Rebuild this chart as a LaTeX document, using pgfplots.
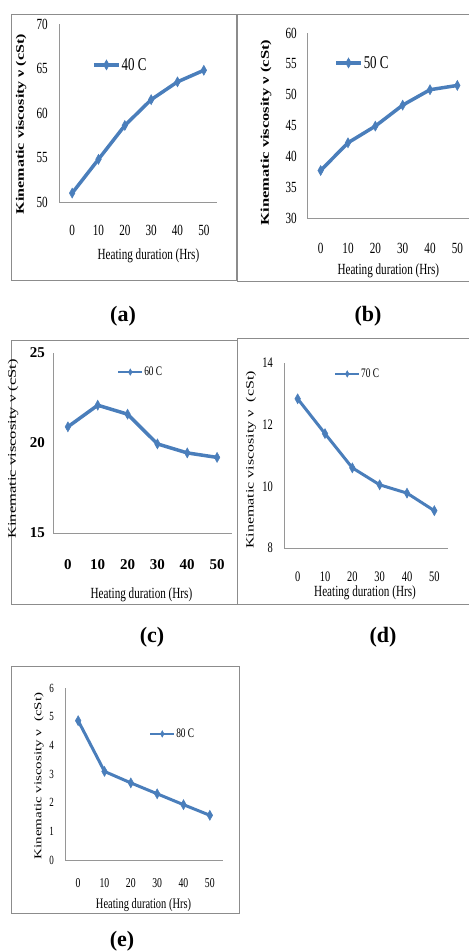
\documentclass[border=0pt]{standalone}
\usepackage{pgfplots}
\pgfplotsset{compat=1.18}
\usepackage{fontspec}
\usepackage{graphicx}
\setmainfont{Liberation Serif}
\newfontfamily\cf[FakeStretch=0.72]{Liberation Serif}
\newcommand\fsz[1]{\fontsize{#1bp}{#1bp}\selectfont}
\definecolor{xlblue}{RGB}{74,126,187}
\definecolor{axgray}{RGB}{150,150,150}
\definecolor{frgray}{RGB}{140,140,140}
\pgfplotsset{
  base/.style={
    scale only axis, anchor=south west,
    axis x line*=bottom, axis y line*=left,
    axis line style={draw=axgray, line width=0.8bp},
    major tick length=0pt,
    xmin=-5, xmax=55, xtick={0,10,20,30,40,50},
    /pgf/number format/assume math mode=true,
    ticklabel style={inner sep=0pt},
    xticklabel style={anchor=center},
    yticklabel style={anchor=east},
    xlabel={Heating duration (Hrs)},
    ylabel style={anchor=center},
    xlabel style={anchor=center},
    legend style={draw=none, fill=none, inner sep=0pt, anchor=west, nodes={inner sep=1bp}},
    legend cell align=left,
  },
  ser/.style={color=xlblue, line width=3.5bp, mark=diamond*, mark size=5bp,
    mark options={solid, fill=xlblue, line width=0.5bp, xscale=0.75}},
  bigleg/.style={legend image code/.code={\draw[mark repeat=2,mark phase=2,##1, line width=3.5bp, mark size=5bp] plot coordinates {(0bp,0bp) (12.5bp,0bp) (25bp,0bp)};}},
  smallleg/.style={legend image code/.code={\draw[mark repeat=2,mark phase=2,##1, line width=2bp, mark size=3.2bp] plot coordinates {(0bp,0bp) (12bp,0bp) (24bp,0bp)};}},
}
\begin{document}
\begin{tikzpicture}
% frames
\draw[frgray, line width=0.8bp] (11bp,-14bp) rectangle (236bp,-280bp);
\draw[frgray, line width=0.8bp] (237bp,-14bp) rectangle (470bp,-281bp);
\draw[frgray, line width=0.8bp] (11bp,-340bp) rectangle (237bp,-604bp);
\draw[frgray, line width=0.8bp] (237bp,-338bp) rectangle (470bp,-604bp);
\draw[frgray, line width=0.8bp] (11bp,-666bp) rectangle (239bp,-913bp);

% (a)
\begin{axis}[base, at={(59bp,-202bp)}, width=158bp, height=178bp,
  ymin=50, ymax=70, ytick={50,55,60,65,70},
  ticklabel style={font=\cf\fsz{15.5}},
  xticklabel style={yshift=-28bp}, yticklabel style={xshift=-11bp},
  xlabel style={font=\cf\fsz{15.5}, at={(axis description cs:0.566,-0.303)}},
  ylabel={\scalebox{1}[0.72]{\bfseries\fsz{16}Kinematic viscosity ν (cSt)}},
  ylabel style={at={(axis description cs:-0.24,0.438)}},
  legend style={at={(axis description cs:0.209,0.77)}, font=\cf\fsz{18}}, bigleg]
\addplot[ser] coordinates {(0,51.0) (10,54.8) (20,58.6) (30,61.5) (40,63.5) (50,64.8)};
\addlegendentry{40 C}
\end{axis}

% (b)
\begin{axis}[base, at={(307bp,-218bp)}, width=164bp, height=185bp,
  ymin=30, ymax=60, ytick={30,35,40,45,50,55,60},
  ticklabel style={font=\cf\fsz{15.5}},
  xticklabel style={yshift=-30bp}, yticklabel style={xshift=-10bp},
  xlabel style={font=\cf\fsz{15.5}, at={(axis description cs:0.496,-0.286)}},
  ylabel={\scalebox{1}[0.72]{\bfseries\fsz{16.5}Kinematic viscosity ν (cSt)}},
  ylabel style={at={(axis description cs:-0.25,0.462)}},
  legend style={at={(axis description cs:0.165,0.838)}, font=\cf\fsz{18}}, bigleg]
\addplot[ser] coordinates {(0,37.7) (10,42.2) (20,44.9) (30,48.3) (40,50.8) (50,51.5)};
\addlegendentry{50 C}
\end{axis}

% (c)
\begin{axis}[base, at={(53bp,-533bp)}, width=179bp, height=180bp,
  ymin=15, ymax=25, ytick={15,20,25},
  ticklabel style={font=\bfseries\fsz{15}},
  xticklabel style={yshift=-32bp}, yticklabel style={xshift=-8bp},
  xlabel style={font=\cf\fsz{15.5}, at={(axis description cs:0.494,-0.344)}},
  ylabel={\scalebox{1}[0.7]{\fsz{16.5}Kinematic viscosity ν (cSt)}},
  ylabel style={at={(axis description cs:-0.223,0.467)}},
  legend style={at={(axis description cs:0.358,0.894)}, font=\cf\fsz{13}}, smallleg]
\addplot[ser] coordinates {(0,20.9) (10,22.1) (20,21.6) (30,19.95) (40,19.45) (50,19.2)};
\addlegendentry{60 C}
\end{axis}

% (d)
\begin{axis}[base, at={(284bp,-548bp)}, width=164bp, height=185bp,
  ymin=8, ymax=14, ytick={8,10,12,14},
  ticklabel style={font=\cf\fsz{14.5}},
  xticklabel style={yshift=-29bp}, yticklabel style={xshift=-11bp},
  xlabel style={font=\cf\fsz{15.5}, at={(axis description cs:0.494,-0.243)}},
  ylabel={\scalebox{1}[0.7]{\fsz{16}Kinematic viscosity ν \ (cSt)}},
  ylabel style={at={(axis description cs:-0.201,0.476)}},
  legend style={at={(axis description cs:0.305,0.941)}, font=\cf\fsz{13}}, smallleg]
\addplot[ser, line width=3bp] coordinates {(0,12.84) (10,11.71) (20,10.6) (30,10.05) (40,9.78) (50,9.21)};
\addlegendentry{70 C}
\end{axis}

% (e)
\begin{axis}[base, at={(65bp,-860bp)}, width=158bp, height=172bp,
  ymin=0, ymax=6, ytick={0,1,2,3,4,5,6},
  ticklabel style={font=\cf\fsz{12.5}},
  xticklabel style={yshift=-23bp, font=\cf\fsz{13.5}}, yticklabel style={xshift=-11bp},
  xlabel style={font=\cf\fsz{14.5}, at={(axis description cs:0.497,-0.262)}},
  ylabel={\scalebox{1}[0.7]{\fsz{15}Kinematic viscosity ν \ (cSt)}},
  ylabel style={at={(axis description cs:-0.165,0.488)}},
  legend style={at={(axis description cs:0.532,0.733)}, font=\cf\fsz{13}}, smallleg]
\addplot[ser, line width=3bp] coordinates {(0,4.86) (10,3.09) (20,2.69) (30,2.31) (40,1.93) (50,1.56)};
\addlegendentry{80 C}
\end{axis}

% panel captions
\node[font=\bfseries\fsz{22}] at (123bp,-316bp) {(a)};
\node[font=\bfseries\fsz{22}] at (368bp,-316bp) {(b)};
\node[font=\bfseries\fsz{22}] at (152bp,-637bp) {(c)};
\node[font=\bfseries\fsz{22}] at (383bp,-637bp) {(d)};
\node[font=\bfseries\fsz{22}] at (122bp,-941bp) {(e)};

\pgfresetboundingbox
\path[use as bounding box] (0bp,0bp) rectangle (469bp,-952bp);
\end{tikzpicture}
\end{document}
